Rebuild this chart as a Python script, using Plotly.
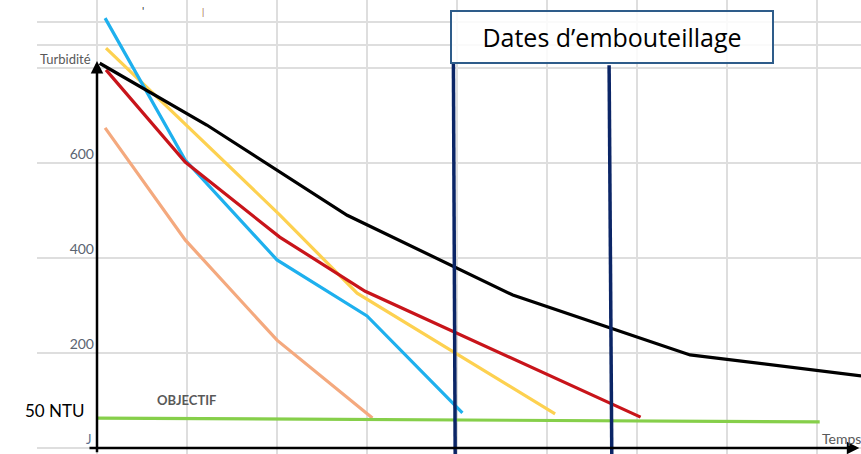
import plotly.graph_objects as go

# ---- data (x in time units, y in NTU) ----
black_x = [0.03, 1.22, 2.78, 4.62, 6.59, 8.49]
black_y = [810, 680, 490, 322, 196, 152]

cyan_x = [0.09, 0.98, 2.0, 3.0, 4.06]
cyan_y = [905, 606, 396, 278, 74]

yellow_x = [0.1, 2.03, 2.89, 5.09]
yellow_y = [842, 491, 326, 72]

red_x = [0.1, 0.98, 2.03, 2.98, 6.04]
red_y = [796, 602, 444, 330, 65]

orange_x = [0.09, 0.98, 2.0, 3.06]
orange_y = [674, 438, 227, 63]

objective_x = [0.0, 8.03]
objective_y = [63, 55]

bottling_x_top = [3.96, 5.69]
bottling_x_bottom = [3.98, 5.72]
bottling_y_top = [810, 806]
bottling_y_bottom = -20

y_tickvals = [0, 200, 400, 600, 800, 848, 897]
y_ticktext = ["", "200", "400", "600", "", "", ""]
x_gridvals = [0, 1, 2, 3, 4, 5, 6, 7, 8]

X_RANGE = [-0.6667, 8.4889]
Y_RANGE = [-12.63, 943.16]

GRAY = "#595959"
FONT = "Lato"

fig = go.Figure()

series = [
    (orange_x, orange_y, "#f4a97e"),
    (yellow_x, yellow_y, "#fdd150"),
    (cyan_x, cyan_y, "#1eb0ee"),
    (red_x, red_y, "#c8141a"),
    (black_x, black_y, "#000000"),
    (objective_x, objective_y, "#86cf4a"),
]
for xs, ys, col in series:
    fig.add_trace(go.Scatter(x=xs, y=ys, mode="lines",
                             line=dict(color=col, width=3.2),
                             hoverinfo="skip", showlegend=False))

for xt, xb, yt in zip(bottling_x_top, bottling_x_bottom, bottling_y_top):
    fig.add_trace(go.Scatter(x=[xb, xt], y=[bottling_y_bottom, yt], mode="lines",
                             line=dict(color="#0b2566", width=3.5),
                             hoverinfo="skip", showlegend=False))

annotations = []
# axes arrows
annotations.append(dict(x=0, y=815, ax=0, ay=-12, xref="x", yref="y",
                        axref="x", ayref="y", text="", showarrow=True,
                        arrowhead=2, arrowsize=1, arrowwidth=2.5, arrowcolor="#000"))
annotations.append(dict(x=8.47, y=0, ax=-0.1, ay=0, xref="x", yref="y",
                        axref="x", ayref="y", text="", showarrow=True,
                        arrowhead=2, arrowsize=1, arrowwidth=2.5, arrowcolor="#000"))
# texts
annotations.append(dict(x=0, y=818, xref="x", yref="y", text="Turbidité",
                        showarrow=False, xanchor="right", yanchor="middle", xshift=-4,
                        font=dict(family=FONT, size=13, color=GRAY)))
annotations.append(dict(x=0, y=19, xref="x", yref="y", text="J",
                        showarrow=False, xanchor="right", yanchor="middle", xshift=-3,
                        font=dict(family=FONT, size=13, color="#5a6f8f")))
annotations.append(dict(x=0.99, y=101, xref="x", yref="y", text="<b>OBJECTIF</b>",
                        showarrow=False, xanchor="center", yanchor="middle",
                        font=dict(family=FONT, size=13, color=GRAY)))
annotations.append(dict(x=0, y=78, xref="x", yref="y", text="50 NTU",
                        showarrow=False, xanchor="right", yanchor="middle", xshift=-10,
                        font=dict(family=FONT, size=17, color="#000")))
annotations.append(dict(x=8.033, y=21, xref="x", yref="y", text="Temps",
                        showarrow=False, xanchor="left", yanchor="middle",
                        font=dict(family=FONT, size=14, color=GRAY)))
annotations.append(dict(x=5.72, y=866, xref="x", yref="y", text="Dates d’embouteillage",
                        showarrow=False, xanchor="center", yanchor="middle",
                        width=318, height=48, borderpad=1, borderwidth=2,
                        bordercolor="#2e5c8a", bgcolor="rgba(255,255,255,0.85)",
                        font=dict(family="Open Sans", size=25, color="#000")))
# small cropped marks at the top
annotations.append(dict(x=0.51, y=922, xref="x", yref="y", text="'",
                        showarrow=False, font=dict(family=FONT, size=11, color="#333")))
annotations.append(dict(x=1.18, y=920, xref="x", yref="y", text="|",
                        showarrow=False, font=dict(family=FONT, size=9, color="#9a5a30")))

fig.update_layout(
    width=861, height=454,
    margin=dict(l=37, r=0, t=0, b=0, autoexpand=False),
    paper_bgcolor="white", plot_bgcolor="white",
    xaxis=dict(range=X_RANGE, tickvals=x_gridvals, showticklabels=False,
               showgrid=True, gridcolor="#dedede", gridwidth=1.5,
               zeroline=False, showline=False, fixedrange=True),
    yaxis=dict(range=Y_RANGE, tickvals=y_tickvals, ticktext=y_ticktext,
               anchor="free", position=(97 - 37) / (861 - 37),
               showgrid=True, gridcolor="#dedede", gridwidth=1.5,
               zeroline=False, showline=False, ticks="",
               ticklabelshift=-9, ticklabelstandoff=3,
               tickfont=dict(family=FONT, size=14, color="#5b6470"), fixedrange=True),
    annotations=annotations,
    showlegend=False,
)

fig.write_html("out.html", config={"displayModeBar": False},
               post_script="document.body.style.margin='0';document.body.style.overflow='hidden';")
